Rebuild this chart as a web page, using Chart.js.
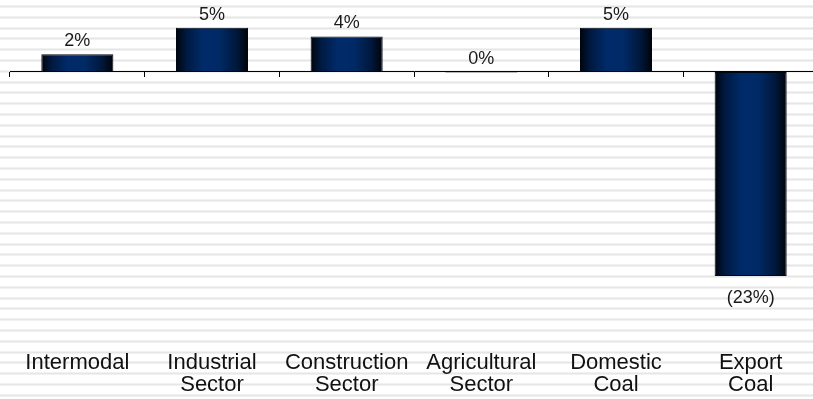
<!DOCTYPE html>
<html>
<head>
<meta charset="utf-8">
<script src="https://cdn.jsdelivr.net/npm/chart.js@4.4.1/dist/chart.umd.min.js"></script>
<style>
  html, body { margin: 0; padding: 0; overflow: hidden; background: #fff; }
  #wrap { position: relative; width: 818px; height: 399px; }
</style>
</head>
<body>
<div id="wrap"><canvas id="chart"></canvas></div>
<script>
// Volume change by business segment (%)
const categories = [
  ['Intermodal'],
  ['Industrial', 'Sector'],
  ['Construction', 'Sector'],
  ['Agricultural', 'Sector'],
  ['Domestic', 'Coal'],
  ['Export', 'Coal']
];
const changePct = [2, 5, 4, 0, 5, -23];

const valueFont = { family: '"Liberation Sans", Arial, sans-serif', size: 18 };
const axisFont = { family: '"Liberation Sans", Arial, sans-serif', size: 22, lineHeight: 1.0 };

function fmtPct(v) {
  return v < 0 ? '(' + Math.abs(v) + '%)' : v + '%';
}

// Striped page background
const stripedBackground = {
  id: 'stripedBackground',
  beforeDraw(chart) {
    const c = chart.ctx;
    c.save();
    c.fillStyle = '#ffffff';
    c.fillRect(0, 0, chart.width, chart.height);
    for (let y = 6; y < chart.height; y += 10.8) {
      const yy = Math.round(y);
      c.fillStyle = '#f1f1f1';
      c.fillRect(0, yy - 1, chart.width, 1);
      c.fillStyle = '#e6e6e6';
      c.fillRect(0, yy, chart.width, 1);
      c.fillStyle = '#f1f1f1';
      c.fillRect(0, yy + 1, chart.width, 1);
    }
    c.restore();
  }
};

// Value labels above / below each bar
const valueLabels = {
  id: 'valueLabels',
  afterDatasetsDraw(chart) {
    const c = chart.ctx;
    const meta = chart.getDatasetMeta(0);
    const data = chart.data.datasets[0].data;
    c.save();
    c.font = valueFont.size + 'px ' + valueFont.family;
    c.fillStyle = '#1a1a1a';
    c.textAlign = 'center';
    meta.data.forEach((bar, i) => {
      const v = data[i];
      if (v < 0) {
        c.textBaseline = 'top';
        c.fillText(fmtPct(v), bar.x, bar.y + 13);
      } else {
        c.textBaseline = 'bottom';
        c.fillText(fmtPct(v), bar.x, bar.y - 4);
      }
    });
    c.restore();
  }
};

const BAR_PCT = 0.535;

function barGradient(ctx) {
  const chart = ctx.chart;
  const area = chart.chartArea;
  const xs = chart.scales.x;
  if (!area || !xs || ctx.dataIndex === undefined) return '#002a66';
  const cx = xs.getPixelForValue(ctx.dataIndex);
  const half = (area.right - area.left) / categories.length * BAR_PCT / 2;
  const g = chart.ctx.createLinearGradient(cx - half, 0, cx + half, 0);
  g.addColorStop(0.00, '#00040c');
  g.addColorStop(0.15, '#001a42');
  g.addColorStop(0.38, '#002b6a');
  g.addColorStop(0.60, '#002a66');
  g.addColorStop(0.85, '#00173a');
  g.addColorStop(1.00, '#000308');
  return g;
}

new Chart(document.getElementById('chart'), {
  type: 'bar',
  data: {
    labels: categories,
    datasets: [{
      data: changePct,
      xAxisID: 'x',
      yAxisID: 'y',
      backgroundColor: barGradient,
      borderColor: '#000612',
      borderWidth: 1,
      borderSkipped: false,
      minBarLength: 1,
      categoryPercentage: 1,
      barPercentage: BAR_PCT
    }]
  },
  options: {
    responsive: true,
    maintainAspectRatio: false,
    animation: false,
    events: [],
    layout: { padding: { left: 10, right: 0, top: 0, bottom: 0 } },
    plugins: {
      legend: { display: false },
      tooltip: { enabled: false }
    },
    scales: {
      y: {
        display: false,
        min: -30.67,
        max: 8.118
      },
      x: {
        type: 'category',
        position: { y: 0 },
        offset: true,
        grid: {
          display: true,
          offset: true,
          drawOnChartArea: false,
          drawTicks: true,
          tickLength: 5,
          tickWidth: 1,
          tickColor: '#000000'
        },
        border: { display: true, color: '#000000', width: 1 },
        ticks: { display: false }
      },
      x2: {
        type: 'category',
        axis: 'x',
        position: 'bottom',
        offset: true,
        grid: { display: false },
        border: { display: false },
        afterFit(scale) { scale.height = 55; },
        ticks: {
          font: axisFont,
          color: '#111111',
          padding: 0,
          maxRotation: 0,
          autoSkip: false
        }
      }
    }
  },
  plugins: [stripedBackground, valueLabels]
});
</script>
</body>
</html>
